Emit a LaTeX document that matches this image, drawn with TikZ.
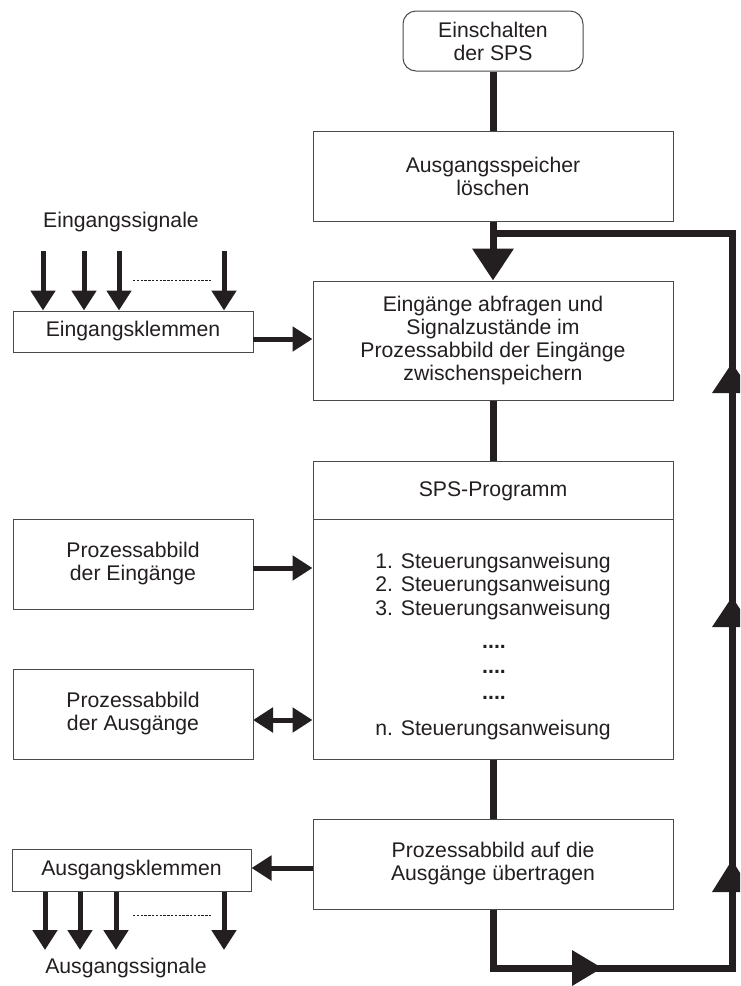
\documentclass[tikz,border=0pt]{standalone}
\usepackage{fontspec}
\setmainfont{Liberation Sans}
\usetikzlibrary{arrows.meta}
\definecolor{ink}{HTML}{231F20}
\definecolor{frame}{HTML}{4A4A4A}
\begin{document}
\begin{tikzpicture}[x=0.5pt,y=-0.5pt,
  txt/.style={font=\fontsize{10.6}{11.5}\selectfont, text=ink, align=center, inner sep=0pt},
  box/.style={txt, draw=frame, line width=0.5pt, rectangle, minimum height=45pt, minimum width=180pt},
  sbox/.style={txt, draw=frame, line width=0.5pt, rectangle, minimum width=120pt},
  flow/.style={draw=ink, line width=3.5pt, line join=miter},
  thin arrow/.style={draw=ink, line width=2.5pt},
  bigtip/.style={-{Triangle[length=16pt,width=20pt]}},
  smalltip/.style={-{Triangle[length=10pt,width=12pt]}},
  dbltip/.style={{Triangle[length=10pt,width=12pt]}-{Triangle[length=10pt,width=12pt]}},
  dots/.style={draw=ink, line width=0.45pt, dash pattern=on 1.2pt off 0.7pt},
]
\useasboundingbox (0,0) rectangle (740,986);
\clip (0,0) rectangle (740,986);
\fill[white] (0,0) rectangle (740,986);

% main column
\node[txt, draw=frame, line width=0.5pt, rounded corners=6.5pt, minimum width=90pt, minimum height=30pt] (start) at (493,41) {Einschalten\\der SPS};
\node[box] (loesch) at (493,176) {Ausgangsspeicher\\löschen};
\node[box, minimum height=59.5pt] (einl) at (493,340.5) {Eingänge abfragen und\\Signalzustände im\\Prozessabbild der Eingänge\\zwischenspeichern};
\node[box, minimum height=149pt] (sps) at (493,610) {};
\draw[frame, line width=0.5pt] (313,519) -- (673,519);
\node[txt] (spsh) at (493,491) {SPS-Programm};
\node[txt] (a1) at (493,563) {1. Steuerungsanweisung};
\node[txt] (a2) at (493,586.5) {2. Steuerungsanweisung};
\node[txt] (a3) at (493,610) {3. Steuerungsanweisung};
\node[txt, font=\fontsize{10.6}{11.5}\selectfont\bfseries] (d1) at (494,647) {....};
\node[txt, font=\fontsize{10.6}{11.5}\selectfont\bfseries] (d2) at (494,672) {....};
\node[txt, font=\fontsize{10.6}{11.5}\selectfont\bfseries] (d3) at (494,698) {....};
\node[txt] (an) at (493,730) {n. Steuerungsanweisung};
\node[box] (ausg) at (493,864) {Prozessabbild auf die\\Ausgänge übertragen};

% left column
\node[txt] (esig) at (121,222) {Eingangssignale};
\node[sbox, minimum height=20.5pt] (eklem) at (133,331.5) {Eingangsklemmen};
\node[sbox, minimum height=45pt] (peing) at (133,564) {Prozessabbild\\der Eingänge};
\node[sbox, minimum height=45pt] (paus) at (133,714) {Prozessabbild\\der Ausgänge};
\node[sbox, minimum height=21pt, minimum width=119.5pt] (aklem) at (131.5,870) {Ausgangsklemmen};
\node[txt] (asig) at (126,968) {Ausgangssignale};

% main flow
\draw[flow] (start.south) -- (loesch.north);
\draw[flow, bigtip] (loesch.south) -- (einl.north);
\draw[flow] (einl.south) -- (sps.north);
\draw[flow] (sps.south) -- (ausg.north);

% return loop
\coordinate (bl) at (493,968);
\coordinate (br) at (732,968);
\coordinate (tr) at (732,233);
\coordinate (tl) at (493,233);
\draw[flow] (ausg.south) -- (bl) -- (br) -- (tr) -- (tl);
\fill[ink] (602,968) -- (572,950) -- (572,986) -- cycle;
\fill[ink] (732,363) -- (712,393) -- (752,393) -- cycle;
\fill[ink] (732,597) -- (712,627) -- (752,627) -- cycle;
\fill[ink] (732,860) -- (712,892) -- (752,892) -- cycle;

% input signals
\foreach \i/\x in {1/43,2/84,3/119,4/224}{
  \coordinate (s\i) at (\x,251);
  \draw[thin arrow, smalltip] (s\i) -- (s\i |- eklem.north);
}
\coordinate (ed1) at (133,280);
\coordinate (ed2) at (212,280);
\draw[dots] (ed1) -- (ed2);

% horizontal connectors
\coordinate (ea) at (253,339);
\draw[thin arrow, smalltip] (ea) -- (ea -| einl.west);
\coordinate (pa) at (253,568);
\draw[thin arrow, smalltip] (pa) -- (pa -| sps.west);
\coordinate (pb) at (253,720);
\draw[thin arrow, dbltip] (pb) -- (pb -| sps.west);
\coordinate (oa) at (313,868);
\draw[thin arrow, smalltip] (oa) -- (oa -| aklem.east);

% output signals
\foreach \i/\x in {1/45,2/80,3/116,4/224}{
  \coordinate (o\i) at (\x,950);
  \draw[thin arrow, smalltip] (o\i |- aklem.south) -- (o\i);
}
\coordinate (od1) at (133,915);
\coordinate (od2) at (212,915);
\draw[dots] (od1) -- (od2);
\end{tikzpicture}
\end{document}
